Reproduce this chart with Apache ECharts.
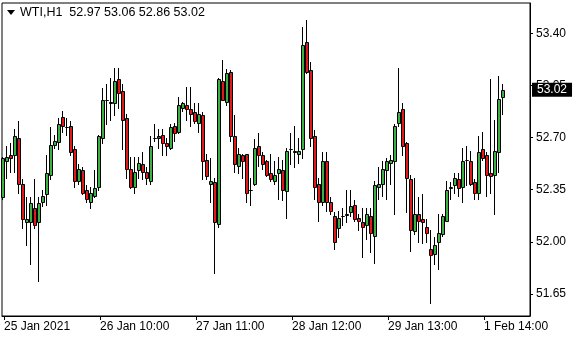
<!DOCTYPE html>
<html><head><meta charset="utf-8">
<script src="https://cdn.jsdelivr.net/npm/echarts@6/dist/echarts.min.js"></script>
<style>html,body{margin:0;padding:0;background:#fff}#c{width:580px;height:340px}</style>
</head><body><div id="c"></div>
<script>
const symbolName = 'WTI,H1';
const openP = [52.30,52.54,52.58,52.58,52.70,52.39,52.13,52.13,52.23,52.13,
52.27,52.32,52.45,52.65,52.67,52.84,52.77,52.78,52.62,52.41,
52.48,52.35,52.27,52.31,52.37,52.70,52.95,52.94,52.93,53.09,
53.01,52.83,52.49,52.37,52.48,52.52,52.47,52.41,52.70,52.71,
52.72,52.66,52.63,52.78,52.74,52.90,52.92,52.89,52.87,52.80,
52.85,52.55,52.39,52.40,52.12,53.08,52.94,53.14,52.71,52.51,
52.58,52.59,52.35,52.39,52.64,52.58,52.54,52.46,52.41,52.46,
52.48,52.34,52.62,52.61,52.59,52.62,53.34,53.15,52.71,52.39,
52.27,52.54,52.27,52.17,52.09,52.17,52.18,52.20,52.25,52.16,
52.13,52.11,52.17,52.04,52.37,52.39,52.48,52.53,52.54,52.80,
52.89,52.66,52.42,52.07,52.19,52.15,52.10,51.95,51.92,52.00,
52.05,52.14,52.36,52.38,52.42,52.37,52.55,52.54,52.40,52.33,
52.62,52.58,52.46,52.45,52.60,52.97];
const highP = [52.57,52.64,52.66,52.76,52.81,52.42,52.30,52.30,52.42,52.30,
52.35,52.58,52.77,52.72,52.83,52.88,52.83,52.81,52.64,52.52,
52.50,52.38,52.37,52.48,52.72,53.03,53.06,53.10,53.17,53.17,
53.06,52.86,52.57,52.57,52.57,52.60,52.50,52.71,52.79,52.76,
52.76,52.70,52.79,52.80,52.97,52.94,53.04,53.04,52.93,52.93,
52.87,52.59,52.56,52.43,53.10,53.22,53.16,53.15,52.85,52.63,
52.59,52.59,52.43,52.69,52.73,52.60,52.55,52.59,52.54,52.57,
52.55,52.63,52.73,52.78,52.70,53.44,53.49,53.21,52.75,52.43,
52.60,52.60,52.30,52.20,52.21,52.23,52.35,52.35,52.28,52.19,
52.23,52.23,52.23,52.41,52.50,52.54,52.56,52.58,52.79,53.17,
52.93,52.67,52.45,52.43,52.30,52.32,52.15,52.08,52.03,52.19,
52.19,52.41,52.40,52.46,52.46,52.63,52.64,52.61,52.42,52.71,
52.74,52.60,53.09,52.82,53.11,53.06];
const lowP = [52.29,52.43,52.47,52.47,52.33,52.09,51.98,51.85,52.09,51.74,
52.24,52.25,52.42,52.63,52.62,52.74,52.72,52.58,52.37,52.39,
52.32,52.27,52.23,52.30,52.35,52.66,52.79,52.82,52.85,52.90,
52.62,52.43,52.36,52.33,52.43,52.42,52.39,52.39,52.68,52.63,
52.58,52.58,52.62,52.68,52.73,52.88,52.82,52.78,52.80,52.74,
52.42,52.42,52.27,51.79,52.10,52.95,52.92,52.68,52.47,52.46,
52.43,52.27,52.25,52.38,52.51,52.49,52.44,52.41,52.39,52.29,
52.28,52.16,52.52,52.50,52.53,52.56,53.13,52.64,52.29,52.14,
52.25,52.21,52.19,51.95,52.03,52.11,52.13,52.17,52.14,52.08,
51.90,52.02,51.93,51.86,52.29,52.31,52.29,52.39,52.19,52.78,
52.58,52.20,51.94,52.05,52.00,51.99,52.00,51.59,51.85,51.82,
52.04,52.14,52.29,52.33,52.31,52.27,52.38,52.38,52.29,52.29,
52.55,52.31,52.33,52.19,52.47,52.86];
const closeP = [52.56,52.57,52.56,52.71,52.39,52.15,52.15,52.26,52.11,52.26,
52.31,52.46,52.65,52.68,52.79,52.78,52.77,52.60,52.41,52.49,
52.33,52.29,52.33,52.36,52.71,52.95,52.95,52.93,53.08,53.00,
52.82,52.49,52.37,52.47,52.53,52.47,52.43,52.64,52.70,52.70,
52.66,52.64,52.77,52.73,52.92,52.93,52.89,52.86,52.81,52.86,
52.54,52.44,52.41,52.13,53.09,52.95,53.13,52.71,52.52,52.59,
52.54,52.33,52.35,52.63,52.58,52.52,52.45,52.42,52.45,52.49,
52.35,52.61,52.62,52.60,52.61,53.32,53.14,52.70,52.37,52.27,
52.54,52.27,52.21,52.00,52.16,52.17,52.19,52.24,52.15,52.14,
52.10,52.19,52.06,52.38,52.39,52.49,52.54,52.55,52.78,52.87,
52.64,52.43,52.08,52.19,52.14,52.13,52.06,51.91,51.98,52.06,
52.17,52.35,52.37,52.43,52.36,52.54,52.55,52.39,52.33,52.60,
52.56,52.45,52.44,52.61,52.96,53.02];
const xTickIndex = [0, 24, 48, 72, 96, 120];
const xTickLabels = ['25 Jan 2021', '26 Jan 10:00', '27 Jan 11:00', '28 Jan 12:00', '29 Jan 13:00', '1 Feb 14:00'];
const yTickValues = [51.65, 52.00, 52.35, 52.70, 53.05, 53.40];
const totalSlots = 132;

const cats = Array.from({length: totalSlots}, (_, i) => String(i));
const rows = openP.map((o, i) => [i, o, closeP[i], lowP[i], highP[i]]);
const last = openP.length - 1;
const header = symbolName + '  ' + [openP[last], highP[last], lowP[last], closeP[last]].map(v => v.toFixed(2)).join(' ');
const FONT = 'Liberation Sans, Arial, sans-serif';
const UP = '#3cb043', DOWN = '#e0191b';

function renderCandle(params, api) {
  const idx = api.value(0);
  const o = api.value(1), c = api.value(2), l = api.value(3), h = api.value(4);
  const pO = api.coord([idx, o]), pC = api.coord([idx, c]);
  const yL = api.coord([idx, l])[1], yH = api.coord([idx, h])[1];
  const cx = Math.round(pO[0]);
  const yTop = Math.round(Math.min(pO[1], pC[1])) + 0.5;
  const yBot = Math.round(Math.max(pO[1], pC[1])) + 0.5;
  const fill = c > o ? UP : (c < o ? DOWN : '#000');
  return {
    type: 'group',
    children: [
      {type: 'line', shape: {x1: cx - 1.5, y1: Math.round(yH), x2: cx - 1.5, y2: Math.round(yL) + 1},
       style: {stroke: '#000', lineWidth: 1}},
      {type: 'rect', shape: {x: cx - 2.5, y: yTop, width: 3, height: yBot - yTop},
       style: {fill: fill, stroke: '#000', lineWidth: 1}}
    ]
  };
}

const chart = echarts.init(document.getElementById('c'), null, {renderer: 'canvas'});
chart.setOption({
  animation: false,
  grid: {left: 2, right: 50, top: 3, bottom: 24, show: true, borderColor: '#000', borderWidth: 1},
  xAxis: {
    type: 'category', data: cats, boundaryGap: true,
    axisLine: {show: true, lineStyle: {color: '#000'}},
    axisTick: {show: true, alignWithLabel: true, length: 4, interval: (i) => xTickIndex.includes(i), lineStyle: {color: '#000'}},
    axisLabel: {
      interval: (i) => xTickIndex.includes(i),
      formatter: (v, i) => { const k = xTickIndex.indexOf(i); return k >= 0 ? xTickLabels[k] : ''; },
      align: 'left', color: '#000', fontSize: 12, fontFamily: FONT, margin: 5
    },
    splitLine: {show: false}
  },
  yAxis: {
    type: 'value', position: 'right', min: 51.502, max: 53.603,
    axisLine: {show: true, lineStyle: {color: '#000'}},
    axisTick: {show: true, length: 3, customValues: yTickValues, lineStyle: {color: '#000'}},
    axisLabel: {customValues: yTickValues, formatter: v => v.toFixed(2), color: '#000', fontSize: 12, fontFamily: FONT, margin: 6},
    splitLine: {show: false}
  },
  series: [{
    type: 'custom', data: rows, renderItem: renderCandle,
    encode: {x: 0, y: [1, 2, 3, 4]},
    markLine: {
      silent: true, symbol: ['none', 'none'], data: [{yAxis: closeP[last]}],
      lineStyle: {color: 'transparent', width: 0},
      label: {position: 'end', formatter: closeP[last].toFixed(2), color: '#fff', backgroundColor: '#000',
        padding: [1, 5, 1, 5], fontSize: 12, fontFamily: FONT, distance: 2}
    }
  }],
  graphic: [
    {type: 'polygon', shape: {points: [[7, 10], [15, 10], [11, 15]]}, style: {fill: '#000'}},
    {type: 'text', left: 20, top: 6, style: {text: header, fontSize: 12.5, fontFamily: FONT, fill: '#000'}}
  ]
});
</script></body></html>
